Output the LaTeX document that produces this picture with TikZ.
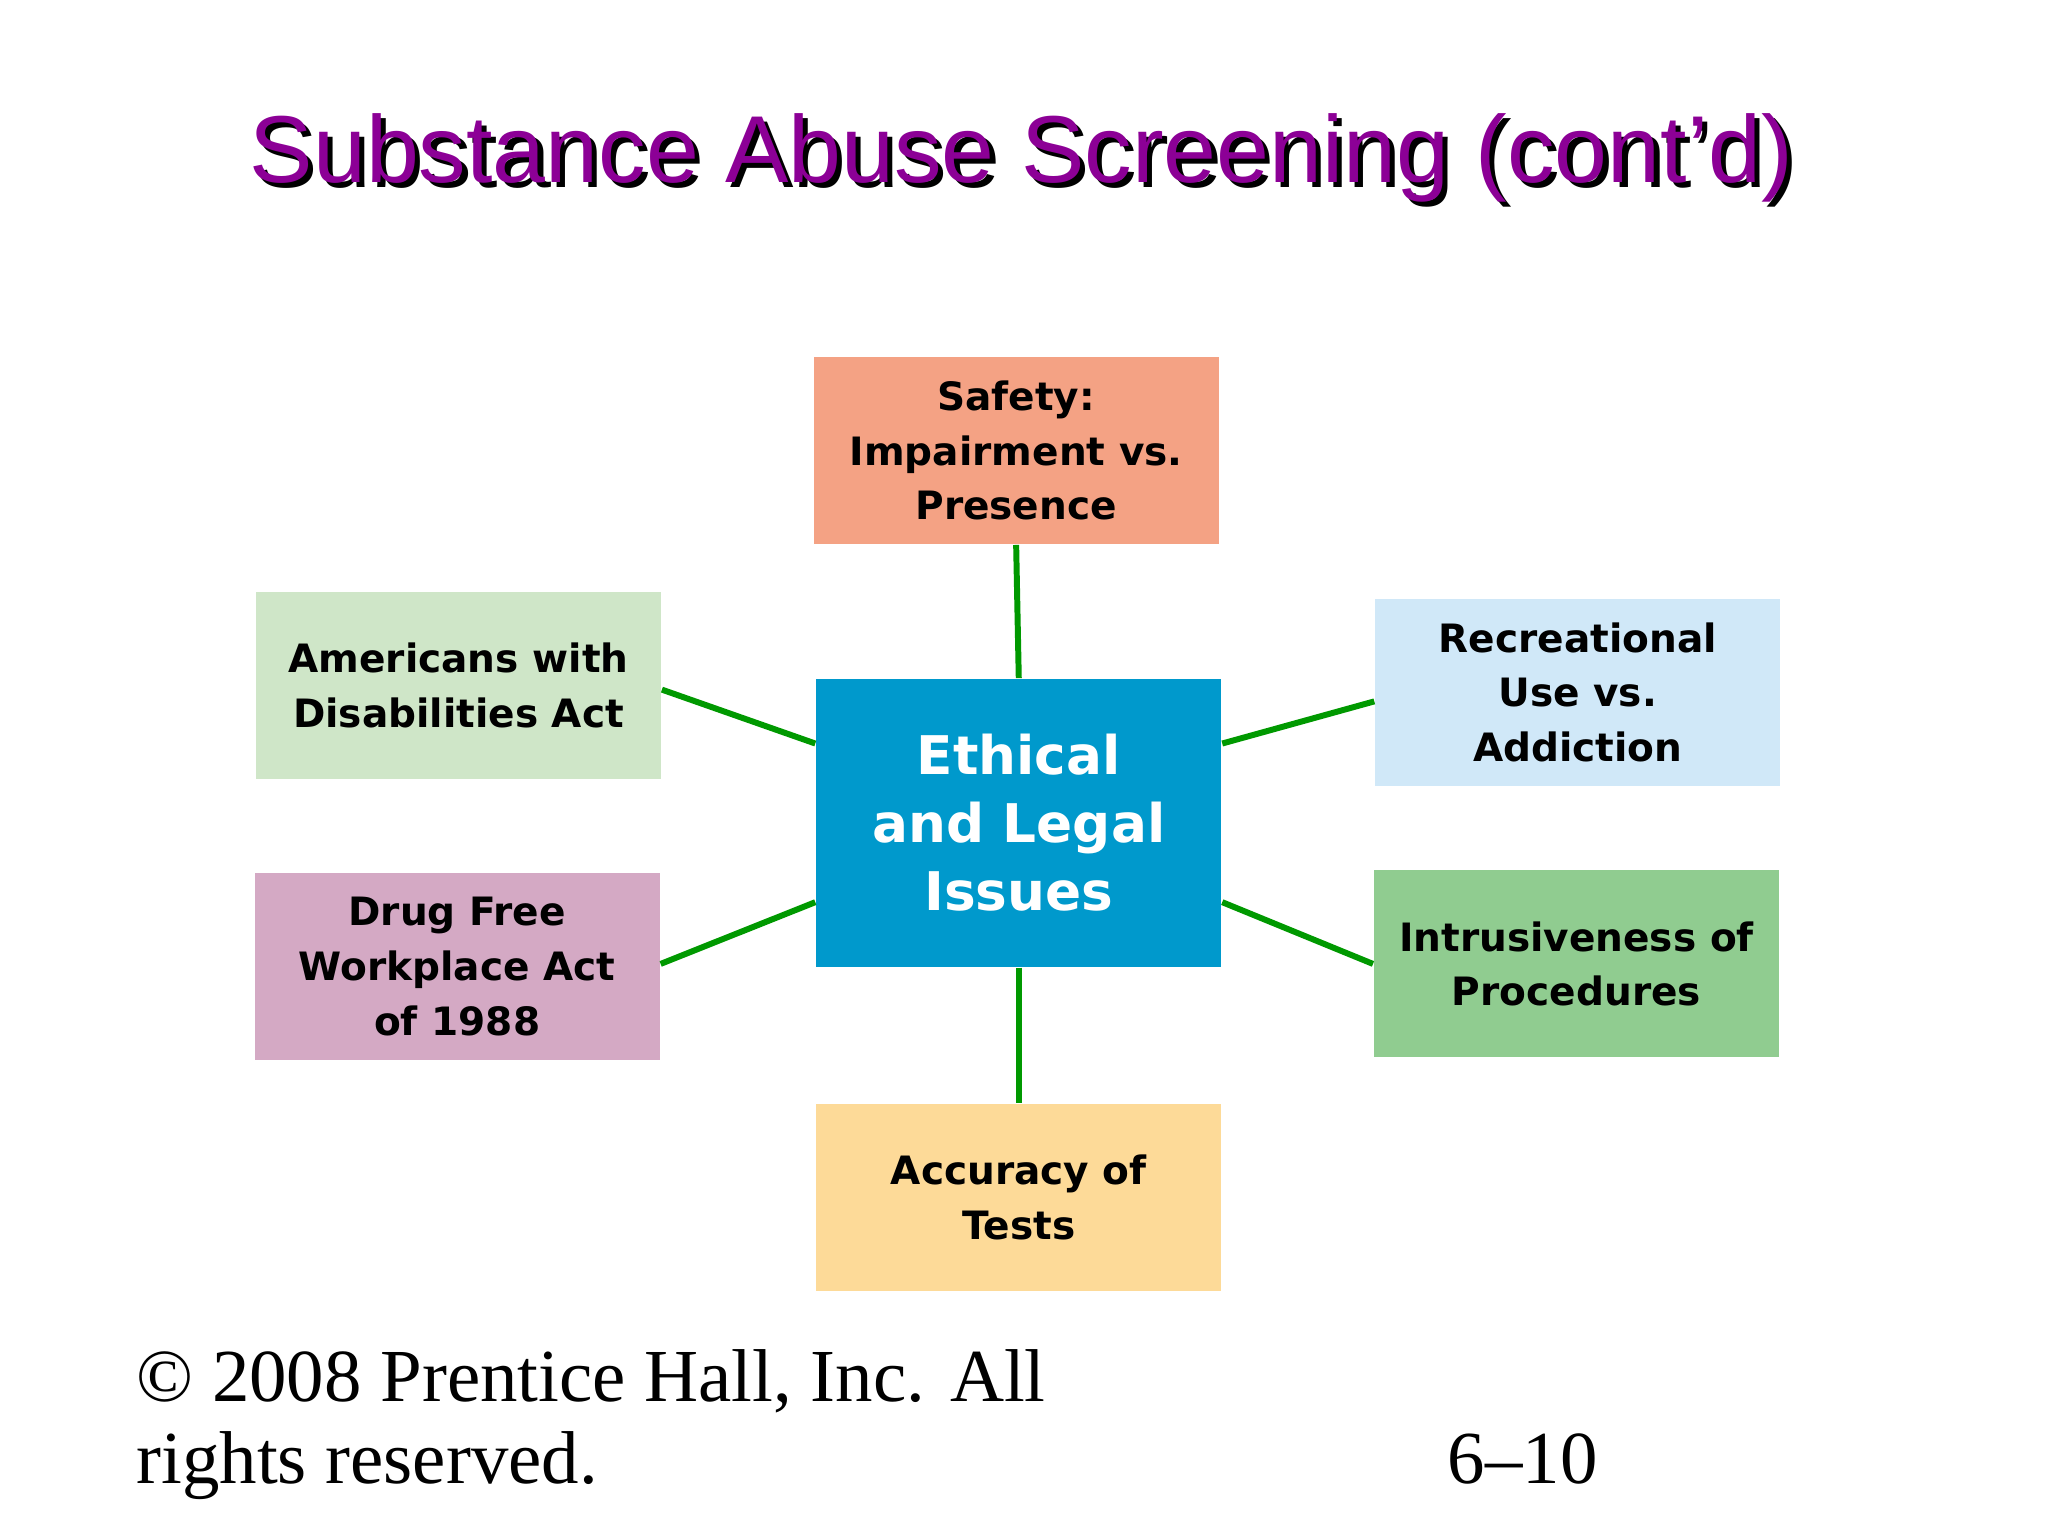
\documentclass[tikz,border=0pt]{standalone}
\usepackage{fontspec}
\setmainfont{Liberation Serif}
\newfontfamily\titlefont{Liberation Sans}
\newfontfamily\boxfont{DejaVu Sans}
\begin{document}
\begin{tikzpicture}[x=0.01cm,y=-0.01cm,
  box/.style={draw=none,minimum width=3.1cm,minimum height=1.43cm,align=center,
    font=\boxfont\bfseries\fontsize{8.5}{11.9}\selectfont,text=black,inner sep=0pt},
  link/.style={draw=green!60!black,line width=1.3pt}]
\useasboundingbox[fill=white] (0,0) rectangle (1568,1176);
\node[font=\titlefont\fontsize{20.7}{24}\selectfont,text=black] at (786,125) {Substance Abuse Screening (cont’d)};
\node[font=\titlefont\fontsize{20.7}{24}\selectfont,text=violet!80!black,text={rgb,255:red,140;green,0;blue,150}] (title) at (782,121) {Substance Abuse Screening (cont’d)};
\node[box,minimum height=2.2cm,fill={rgb,255:red,0;green,153;blue,204},text=white,
  font=\boxfont\bfseries\fontsize{11.6}{14.8}\selectfont] (c) at (780,630) {Ethical\\and Legal\\Issues};
\node[box,fill={rgb,255:red,244;green,162;blue,132}] (s) at (778,345) {Safety:\\Impairment vs.\\Presence};
\node[box,fill={rgb,255:red,207;green,230;blue,200}] (a) at (351,525) {Americans with\\Disabilities Act};
\node[box,fill={rgb,255:red,212;green,169;blue,196}] (d) at (350,740) {Drug Free\\Workplace Act\\of 1988};
\node[box,fill={rgb,255:red,208;green,232;blue,248}] (r) at (1208,530) {Recreational\\Use vs.\\Addiction};
\node[box,fill={rgb,255:red,144;green,204;blue,144}] (i) at (1207,738) {Intrusiveness of\\Procedures};
\node[box,fill={rgb,255:red,253;green,218;blue,152}] (t) at (780,917) {Accuracy of\\Tests};
\draw[link] (c.north) -- (s.south);
\draw[link] (c.south) -- (t.north);
\draw[link] ([yshift=-0.5cm]c.north west) -- ([yshift=-0.03cm]a.east);
\draw[link] ([yshift=0.5cm]c.south west) -- ([yshift=0.02cm]d.east);
\draw[link] ([yshift=-0.5cm]c.north east) -- ([yshift=-0.07cm]r.west);
\draw[link] ([yshift=0.5cm]c.south east) -- (i.west);
\node[anchor=base west,align=left,font=\fontsize{16.3}{22}\selectfont] (f) at (92,1073) {© 2008 Prentice Hall, Inc. All};
\node[anchor=base west,font=\fontsize{16.3}{22}\selectfont] (f2) at (92,1136) {rights reserved.};
\node[anchor=base west,font=\fontsize{16.3}{22}\selectfont] (p) at (1096,1136) {6–10};
\end{tikzpicture}
\end{document}
